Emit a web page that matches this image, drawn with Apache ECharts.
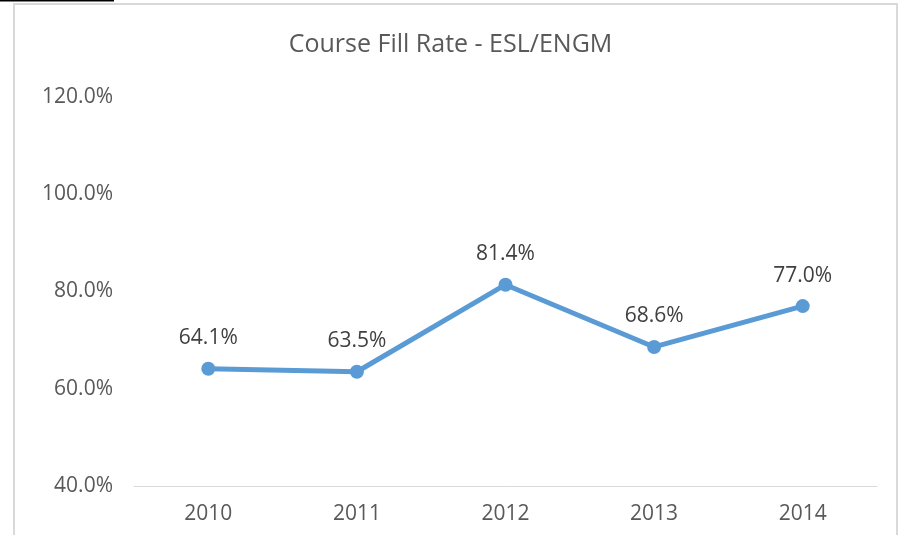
<!DOCTYPE html>
<html>
<head>
<meta charset="utf-8">
<script src="https://cdn.jsdelivr.net/npm/echarts@6/dist/echarts.min.js"></script>
<style>html,body{margin:0;padding:0;background:#fff}#c{width:901px;height:535px}</style>
</head>
<body>
<div id="c"></div>
<script>
const categories = ['2010', '2011', '2012', '2013', '2014'];
const fillRate = [64.1, 63.5, 81.4, 68.6, 77.0];
const titleText = 'Course Fill Rate - ESL/ENGM';

const chart = echarts.init(document.getElementById('c'), null, {renderer: 'canvas'});
const font = '"Open Sans", "Noto Sans", sans-serif';
chart.setOption({
  animation: false,
  title: {
    text: titleText, left: 'center', top: 27,
    textStyle: {fontFamily: font, fontSize: 25, fontWeight: 'normal', color: '#595959'}
  },
  grid: {left: 134, right: 24, top: 97, bottom: 49},
  xAxis: {
    type: 'category', data: categories, boundaryGap: true,
    axisLine: {lineStyle: {color: '#d9d9d9', width: 1}},
    axisTick: {show: false},
    axisLabel: {fontFamily: font, fontSize: 21, color: '#595959', margin: 18}
  },
  yAxis: {
    type: 'value', min: 40, max: 120, interval: 20,
    axisLine: {show: false}, axisTick: {show: false},
    splitLine: {show: false},
    axisLabel: {fontFamily: font, fontSize: 21, color: '#595959', margin: 21,
      formatter: v => v.toFixed(1) + '%'}
  },
  series: [{
    type: 'line', data: fillRate,
    lineStyle: {color: '#5b9bd5', width: 5},
    itemStyle: {color: '#5b9bd5'},
    symbol: 'circle', symbolSize: 14,
    label: {show: true, position: 'top', distance: 13, fontFamily: font, fontSize: 21, color: '#404040',
      formatter: p => p.value.toFixed(1) + '%'}
  }],
  graphic: [
    {type: 'rect', shape: {x: 14, y: 4, width: 883, height: 560}, style: {fill: 'none', stroke: '#d9d9d9', lineWidth: 2}},
    {type: 'line', shape: {x1: 0, y1: 0.5, x2: 114, y2: 0.5}, style: {stroke: '#000', lineWidth: 2}}
  ]
});
</script>
</body>
</html>
